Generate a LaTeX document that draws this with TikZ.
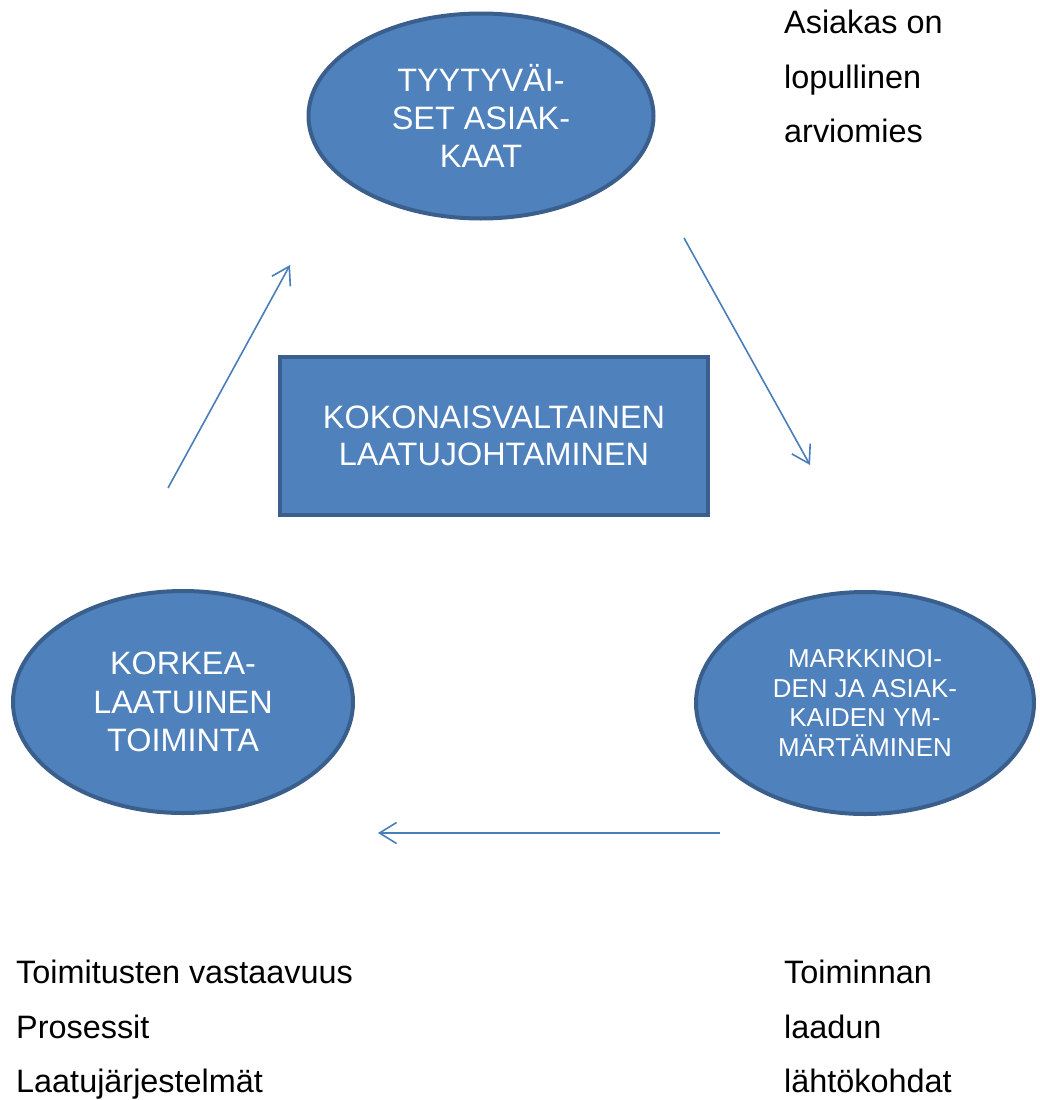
\documentclass[tikz,border=0pt]{standalone}
\usepackage{fontspec}
\setmainfont{Liberation Sans}
\usetikzlibrary{arrows.meta,positioning,shapes.geometric}

\definecolor{laatusini}{HTML}{4F81BD}
\definecolor{reunasini}{HTML}{3A5F8C}
\definecolor{nuolisini}{HTML}{4A7EBB}

\tikzset{
  soikio/.style={ellipse,draw=reunasini,line width=4pt,fill=laatusini,text=white,align=center,inner sep=0pt},
  laatikko/.style={rectangle,draw=reunasini,line width=4pt,fill=laatusini,text=white,align=center,inner sep=0pt},
  nuoli/.style={draw=nuolisini,line width=1.6pt,-{Straight Barb[length=17pt,width=21pt]}},
  teksti/.style={align=left,anchor=north west,inner sep=0pt,font=\fontsize{32.4}{54.5}\selectfont}
}

\begin{document}
\begin{tikzpicture}[x=1pt,y=-1pt]
  \useasboundingbox (0,0) rectangle (1040,1100);
  \node[soikio,minimum width=345pt,minimum height=205pt,font=\fontsize{32.4}{38}\selectfont] (tyytyvaiset) at (481,116) {TYYTYVÄI-\\SET ASIAK-\\KAAT}; % ylin soikio
  \node[laatikko,minimum width=428pt,minimum height=158pt,font=\fontsize{32.4}{37}\selectfont] (kokonais) at (494,436) {KOKONAISVALTAINEN\\LAATUJOHTAMINEN}; % keskellä oleva laatikko
  \node[soikio,minimum width=340pt,minimum height=222pt,font=\fontsize{32.4}{38.5}\selectfont] (korkea) at (183,702) {KORKEA-\\LAATUINEN\\TOIMINTA}; % vasen soikio
  \node[soikio,minimum width=338pt,minimum height=222pt,font=\fontsize{25.9}{29.5}\selectfont] (markkinat) at (865,703) {MARKKINOI-\\DEN JA ASIAK-\\KAIDEN YM-\\MÄRTÄMINEN}; % oikea soikio
  \coordinate (n1a) at (168,488); % nuolten päät
  \coordinate (n1b) at (290,265);
  \coordinate (n2a) at (684,238);
  \coordinate (n2b) at (810,465);
  \coordinate (n3a) at (720,833);
  \coordinate (n3b) at (378,833);
  \draw[nuoli] (n1a) -- (n1b);
  \draw[nuoli] (n2a) -- (n2b);
  \draw[nuoli] (n3a) -- (n3b);
  \node[teksti] (arviomies) at (784,10) {Asiakas on\\lopullinen\\arviomies};
  \node[teksti] (toimitukset) at (16,960) {Toimitusten vastaavuus\\Prosessit\\Laatujärjestelmät};
  \node[teksti] (lahtokohdat) at (784,960) {Toiminnan\\laadun\\lähtökohdat};
\end{tikzpicture}
\end{document}
